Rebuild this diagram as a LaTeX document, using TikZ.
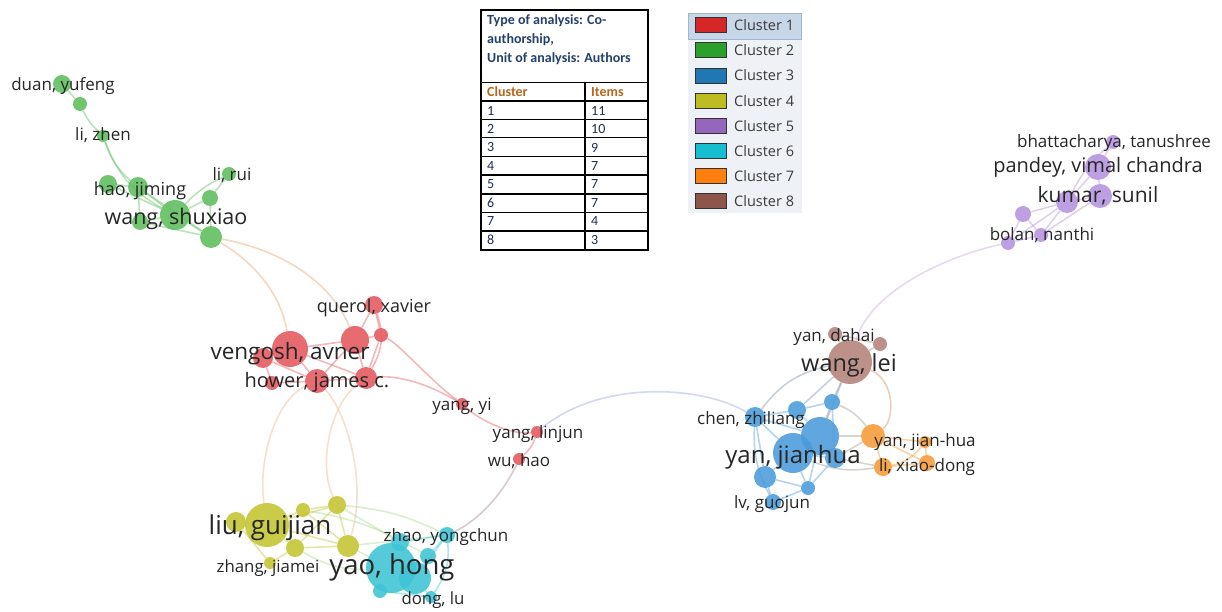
\documentclass[tikz,border=0pt]{standalone}
\usepackage{fontspec}
\setmainfont{Open Sans}
\newfontfamily\tblfont{Carlito}
\pgfdeclarelayer{bgl}
\pgfdeclarelayer{edl}
\pgfsetlayers{bgl,edl,main}
\definecolor{cR}{HTML}{E4585E}
\definecolor{cG}{HTML}{5EBE5E}
\definecolor{cB}{HTML}{4A9BDB}
\definecolor{cY}{HTML}{C4C432}
\definecolor{cP}{HTML}{B393DE}
\definecolor{cC}{HTML}{3EC4D6}
\definecolor{cO}{HTML}{F49A36}
\definecolor{cW}{HTML}{B3827A}
\definecolor{eRG}{HTML}{E8A070}
\definecolor{eRY}{HTML}{EBB890}
\definecolor{eYC}{HTML}{A8D890}
\definecolor{ePW}{HTML}{C8A8D8}
\definecolor{lblc}{HTML}{262626}
\definecolor{LR}{HTML}{D62728}
\definecolor{LG}{HTML}{2CA02C}
\definecolor{LB}{HTML}{1F77B4}
\definecolor{LY}{HTML}{BCBD22}
\definecolor{LP}{HTML}{9467BD}
\definecolor{LC}{HTML}{17BECF}
\definecolor{LO}{HTML}{FF7F0E}
\definecolor{LW}{HTML}{8C564B}
\definecolor{tblue}{HTML}{24406E}
\definecolor{tbrown}{HTML}{B8651E}
\definecolor{tnum}{HTML}{1E2E50}
\definecolor{legbg}{HTML}{EEF2F6}
\definecolor{leghl}{HTML}{C7D7E8}
\definecolor{leghb}{HTML}{9FB7D1}
\definecolor{legtx}{HTML}{3A3A3A}
\tikzset{
  nd/.style={circle, inner sep=0pt, draw=none, fill opacity=0.88},
  nR/.style={nd, fill=cR, minimum size=#1},
  nG/.style={nd, fill=cG, minimum size=#1},
  nB/.style={nd, fill=cB, minimum size=#1},
  nY/.style={nd, fill=cY, minimum size=#1},
  nP/.style={nd, fill=cP, minimum size=#1},
  nC/.style={nd, fill=cC, minimum size=#1},
  nO/.style={nd, fill=cO, minimum size=#1},
  nW/.style={nd, fill=cW, minimum size=#1},
  lb/.style={anchor=mid, inner sep=0pt, text=lblc, yshift={-0.25pt*#1}, font=\fontsize{#1}{#1}\selectfont},
  ed/.style={line width=1.6pt, draw opacity=0.42},
  swatch/.style={draw=black!80, line width=0.9pt, minimum width=31pt, minimum height=15pt, inner sep=0pt},
  legtxt/.style={anchor=west, inner sep=0pt, text=legtx, font=\fontsize{14.5}{14.5}\selectfont},
  thead/.style={anchor=west, inner sep=0pt, text=tblue, font=\tblfont\bfseries\fontsize{14}{14}\selectfont},
  tcol/.style={anchor=west, inner sep=0pt, text=tbrown, font=\tblfont\bfseries\fontsize{14}{14}\selectfont},
  tval/.style={anchor=west, inner sep=0pt, text=tnum, font=\tblfont\fontsize{14}{14}\selectfont}
}
\begin{document}
\begin{tikzpicture}[x=1pt,y=-1pt]
\begin{pgfonlayer}{bgl}
\fill[white] (0,0) rectangle (1222,612);
\end{pgfonlayer}
\useasboundingbox (0,0) rectangle (1222,612);

% ---------------- nodes ----------------
% green
\node[nG=18pt] (g1) at (62,84) {};
\node[nG=14pt] (g2) at (80,104) {};
\node[nG=12pt] (g3) at (103,136) {};
\node[nG=20pt] (g4) at (138,187) {};
\node[nG=18pt] (g5) at (108,184) {};
\node[nG=14pt] (g6) at (229,174) {};
\node[nG=16pt] (g7) at (210,198) {};
\node[nG=30pt] (g8) at (175,215) {};
\node[nG=16pt] (g9) at (140,222) {};
\node[nG=22pt] (g10) at (211,237) {};
% red
\node[nR=18pt] (r1) at (374,305) {};
\node[nR=28pt] (r2) at (355,340) {};
\node[nR=14pt] (r3) at (381,335) {};
\node[nR=36pt] (r4) at (290,349) {};
\node[nR=20pt] (r5) at (263,358) {};
\node[nR=14pt] (r6) at (272,383) {};
\node[nR=24pt] (r7) at (317,381) {};
\node[nR=22pt] (r8) at (366,378) {};
\node[nR=12pt] (r9) at (462,404) {};
\node[nR=12pt] (r10) at (537,432) {};
\node[nR=12pt] (r11) at (519,459) {};
% yellow
\node[nY=44pt] (y1) at (267,525) {};
\node[nY=20pt] (y2) at (236,522) {};
\node[nY=14pt] (y3) at (303,510) {};
\node[nY=18pt] (y4) at (337,505) {};
\node[nY=18pt] (y5) at (295,548) {};
\node[nY=22pt] (y6) at (348,546) {};
\node[nY=12pt] (y7) at (270,563) {};
% cyan
\node[nC=50pt] (c1) at (391,568) {};
\node[nC=32pt] (c2) at (415,578) {};
\node[nC=16pt] (c3) at (447,535) {};
\node[nC=18pt] (c4) at (400,542) {};
\node[nC=14pt] (c5) at (380,591) {};
\node[nC=12pt] (c6) at (431,597) {};
\node[nC=16pt] (c7) at (428,556) {};
% blue
\node[nB=40pt] (b1) at (793,453) {};
\node[nB=38pt] (b2) at (820,436) {};
\node[nB=20pt] (b3) at (755,417) {};
\node[nB=18pt] (b4) at (797,410) {};
\node[nB=16pt] (b5) at (832,402) {};
\node[nB=20pt] (b6) at (835,458) {};
\node[nB=22pt] (b7) at (765,477) {};
\node[nB=14pt] (b8) at (808,488) {};
\node[nB=16pt] (b9) at (773,502) {};
% brown
\node[nW=44pt] (w1) at (850,362) {};
\node[nW=14pt] (w2) at (835,334) {};
\node[nW=14pt] (w3) at (880,344) {};
% orange
\node[nO=24pt] (o1) at (873,436) {};
\node[nO=12pt] (o2) at (925,442) {};
\node[nO=18pt] (o3) at (883,467) {};
\node[nO=16pt] (o4) at (927,463) {};
% purple
\node[nP=14pt] (p1) at (1113,142) {};
\node[nP=26pt] (p2) at (1098,167) {};
\node[nP=24pt] (p3) at (1100,196) {};
\node[nP=22pt] (p4) at (1067,202) {};
\node[nP=16pt] (p5) at (1023,214) {};
\node[nP=14pt] (p6) at (1041,235) {};
\node[nP=14pt] (p7) at (1008,243) {};

% ---------------- edges ----------------
\begin{pgfonlayer}{edl}
% green
\draw[ed, cG] (g1) -- (g2);
\draw[ed, cG] (g2) to[bend right=10] (g3);
\draw[ed, cG] (g3) to[bend right=15] (g4);
\draw[ed, cG] (g3) to[bend right=20] (g8);
\draw[ed, cG] (g4) -- (g8);
\draw[ed, cG] (g5) -- (g4);
\draw[ed, cG] (g5) -- (g8);
\draw[ed, cG] (g4) -- (g9);
\draw[ed, cG] (g9) -- (g8);
\draw[ed, cG] (g8) -- (g7);
\draw[ed, cG] (g7) -- (g6);
\draw[ed, cG] (g8) -- (g10);
\draw[ed, cG] (g4) -- (g10);
\draw[ed, cG] (g9) -- (g10);
\draw[ed, cG] (g7) -- (g10);
\draw[ed, cG] (g8) to[bend left=10] (g6);
% green - red
\draw[ed, eRG] (g10) .. controls (250,260) and (280,290) .. (r4);
\draw[ed, eRG] (g10) .. controls (280,250) and (330,280) .. (r2);
% red
\draw[ed, cR] (r1) -- (r2);
\draw[ed, cR] (r1) -- (r3);
\draw[ed, cR] (r2) -- (r3);
\draw[ed, cR] (r2) -- (r4);
\draw[ed, cR] (r4) -- (r5);
\draw[ed, cR] (r4) -- (r7);
\draw[ed, cR] (r5) -- (r6);
\draw[ed, cR] (r5) -- (r7);
\draw[ed, cR] (r6) -- (r7);
\draw[ed, cR] (r7) -- (r8);
\draw[ed, cR] (r2) -- (r8);
\draw[ed, cR] (r3) -- (r8);
\draw[ed, cR] (r2) -- (r7);
\draw[ed, cR] (r4) -- (r8);
\draw[ed, cR] (r1) to[bend left=25] (r8);
\draw[ed, cR] (r8) .. controls (400,375) and (430,385) .. (r9);
\draw[ed, cR] (r3) .. controls (400,345) and (430,380) .. (r9);
\draw[ed, cR] (r9) .. controls (480,420) and (510,435) .. (r10);
\draw[ed, cR] (r10) to[bend left=15] (r11);
% red - blue
\draw[ed, ePW!60!cB] (r10) .. controls (600,380) and (700,385) .. (b3);
% red - cyan
\draw[ed, cR!60!cC] (r11) .. controls (505,490) and (480,520) .. (c3);
% red - yellow
\draw[ed, eRY] (r7) .. controls (275,400) and (258,460) .. (y1);
\draw[ed, eRY] (r8) .. controls (330,405) and (318,465) .. (y4);
\draw[ed, eRY] (r7) .. controls (345,410) and (368,480) .. (y6);
% yellow
\draw[ed, cY] (y1) -- (y2);
\draw[ed, cY] (y1) -- (y3);
\draw[ed, cY] (y1) -- (y4);
\draw[ed, cY] (y1) -- (y5);
\draw[ed, cY] (y1) -- (y6);
\draw[ed, cY] (y3) -- (y4);
\draw[ed, cY] (y4) -- (y6);
\draw[ed, cY] (y5) -- (y6);
\draw[ed, cY] (y2) -- (y7);
\draw[ed, cY] (y5) -- (y7);
\draw[ed, cY] (y4) -- (y5);
\draw[ed, cY] (y3) -- (y6);
% yellow - cyan
\draw[ed, eYC] (y6) -- (c1);
\draw[ed, eYC] (y4) -- (c4);
\draw[ed, eYC] (y4) to[bend left=10] (c3);
\draw[ed, eYC] (y6) -- (c3);
\draw[ed, eYC] (y3) to[bend left=10] (c7);
\draw[ed, eYC] (y5) to[bend right=15] (c1);
% cyan
\draw[ed, cC] (c1) -- (c2);
\draw[ed, cC] (c1) -- (c4);
\draw[ed, cC] (c4) -- (c3);
\draw[ed, cC] (c2) -- (c3);
\draw[ed, cC] (c7) -- (c3);
\draw[ed, cC] (c1) -- (c5);
\draw[ed, cC] (c2) -- (c6);
\draw[ed, cC] (c5) -- (c6);
\draw[ed, cC] (c2) -- (c7);
\draw[ed, cC] (c3) to[bend left=20] (c6);
% blue
\draw[ed, cB] (b1) -- (b2);
\draw[ed, cB] (b1) -- (b3);
\draw[ed, cB] (b2) -- (b3);
\draw[ed, cB] (b3) -- (b4);
\draw[ed, cB] (b4) -- (b5);
\draw[ed, cB] (b4) -- (b2);
\draw[ed, cB] (b5) -- (b2);
\draw[ed, cB] (b1) -- (b7);
\draw[ed, cB] (b7) -- (b9);
\draw[ed, cB] (b8) -- (b9);
\draw[ed, cB] (b1) -- (b8);
\draw[ed, cB] (b2) -- (b6);
\draw[ed, cB] (b6) -- (b1);
\draw[ed, cB] (b7) -- (b8);
\draw[ed, cB] (b2) -- (b8);
\draw[ed, cB] (b3) -- (b7);
\draw[ed, cB] (b6) -- (b8);
\draw[ed, cB] (b5) -- (b6);
\draw[ed, cB] (b3) to[bend right=15] (b9);
% brown
\draw[ed, cW] (w1) -- (w2);
\draw[ed, cW] (w1) -- (w3);
\draw[ed, cW] (w2) -- (w3);
\draw[ed, cW!50!cB] (w1) -- (b4);
\draw[ed, cW!50!cB] (w1) -- (b5);
\draw[ed, cW!50!cB] (w1) to[bend right=20] (b3);
\draw[ed, cW!50!cB] (w1) -- (b2);
\draw[ed, cW!50!cO] (w1) .. controls (895,380) and (895,420) .. (o1);
% brown - purple
\draw[ed, ePW] (w1) .. controls (870,290) and (950,255) .. (p7);
% orange
\draw[ed, cO] (o1) -- (o2);
\draw[ed, cO] (o1) -- (o3);
\draw[ed, cO] (o1) -- (o4);
\draw[ed, cO] (o2) -- (o4);
\draw[ed, cO] (o3) -- (o4);
\draw[ed, cO] (o2) to[bend left=20] (o3);
\draw[ed, cO!50!cB] (b2) -- (o1);
\draw[ed, cO!50!cB] (b6) -- (o1);
\draw[ed, cO!50!cB] (b1) to[bend right=15] (o3);
\draw[ed, cO!50!cB] (b6) -- (o3);
\draw[ed, cO!50!cB] (b5) to[bend left=15] (o1);
% purple
\draw[ed, cP] (p1) -- (p2);
\draw[ed, cP] (p2) -- (p3);
\draw[ed, cP] (p2) -- (p4);
\draw[ed, cP] (p3) -- (p4);
\draw[ed, cP] (p4) -- (p5);
\draw[ed, cP] (p4) -- (p6);
\draw[ed, cP] (p5) -- (p6);
\draw[ed, cP] (p5) -- (p7);
\draw[ed, cP] (p6) -- (p7);
\draw[ed, cP] (p4) -- (p7);
\draw[ed, cP] (p1) to[bend right=10] (p4);
\draw[ed, cP] (p3) -- (p6);
\end{pgfonlayer}

% ---------------- labels ----------------
\node[lb=17] (Lg1) at (63,84) {duan, yufeng};
\node[lb=17] (Lg3) at (103,134) {li, zhen};
\node[lb=18] (Lg4) at (140,188) {hao, jiming};
\node[lb=17] (Lg6) at (232,174) {li, rui};
\node[lb=21.5] (Lg8) at (176,216) {wang, shuxiao};
\node[lb=18] (Lr1) at (374,305) {querol, xavier};
\node[lb=22.5] (Lr4) at (290,351) {vengosh, avner};
\node[lb=20] (Lr7) at (317,380) {hower, james c.};
\node[lb=17] (Lr9) at (462,404) {yang, yi};
\node[lb=17] (Lr10) at (538,432) {yang, linjun};
\node[lb=17] (Lr11) at (519,460) {wu, hao};
\node[lb=26] (Ly1) at (270,525) {liu, guijian};
\node[lb=16.8] (Ly7) at (268,566) {zhang, jiamei};
\node[lb=27.5] (Lc1) at (392,565) {yao, hong};
\node[lb=17] (Lc3) at (446,535) {zhao, yongchun};
\node[lb=16.8] (Lc6) at (433,598) {dong, lu};
\node[lb=17] (Lw2) at (834,335) {yan, dahai};
\node[lb=23.5] (Lw1) at (849,363) {wang, lei};
\node[lb=17] (Lb3) at (751,418) {chen, zhiliang};
\node[lb=24] (Lb1) at (793,455) {yan, jianhua};
\node[lb=17] (Lo1) at (925,440) {yan, jian-hua};
\node[lb=17] (Lo3) at (927,465) {li, xiao-dong};
\node[lb=17] (Lb9) at (772,502) {lv, guojun};
\node[lb=17] (Lp1) at (1114,141) {bhattacharya, tanushree};
\node[lb=20] (Lp2) at (1098,165) {pandey, vimal chandra};
\node[lb=21] (Lp3) at (1098,195) {kumar, sunil};
\node[lb=17] (Lp6) at (1042,234) {bolan, nanthi};

% ---------------- table ----------------
\draw[line width=1.2pt] (481,10) rectangle (648,250);
\draw[line width=1.4pt] (481,82.3) -- (648,82.3);
\foreach \yy in {101,119.3,137.7,156.7,175,194,212.3,231} {
  \draw[line width=1.1pt] (481,\yy) -- (648,\yy);
}
\draw[line width=1.1pt] (585,82.3) -- (585,250);
\node[thead] (th1) at (487,21) {Type of analysis: Co-};
\node[thead] (th2) at (487,40) {authorship,};
\node[thead] (th3) at (487,59) {Unit of analysis: Authors};
\node[tcol] (tc1) at (487,92) {Cluster};
\node[tcol] (tc2) at (591,92) {Items};
\foreach \k/\v [count=\i] in {1/11,2/10,3/9,4/7,5/7,6/7,7/4,8/3} {
  \node[tval] (tk\i) at (487,{92+18.5*\i}) {\k};
  \node[tval] (tv\i) at (591,{92+18.5*\i}) {\v};
}

% ---------------- legend ----------------
\fill[legbg] (688,13) rectangle (802,213);
\draw[leghb, fill=leghl, line width=0.8pt] (688.5,13.5) rectangle (801.5,39);
\foreach \c [count=\i] in {LR,LG,LB,LY,LP,LC,LO,LW} {
  \node[swatch, fill=\c] (sw\i) at (711,{25.3+25.1*(\i-1)}) {};
  \node[legtxt] (lt\i) at (734,{25.3+25.1*(\i-1)}) {Cluster \i};
}
\end{tikzpicture}
\end{document}
